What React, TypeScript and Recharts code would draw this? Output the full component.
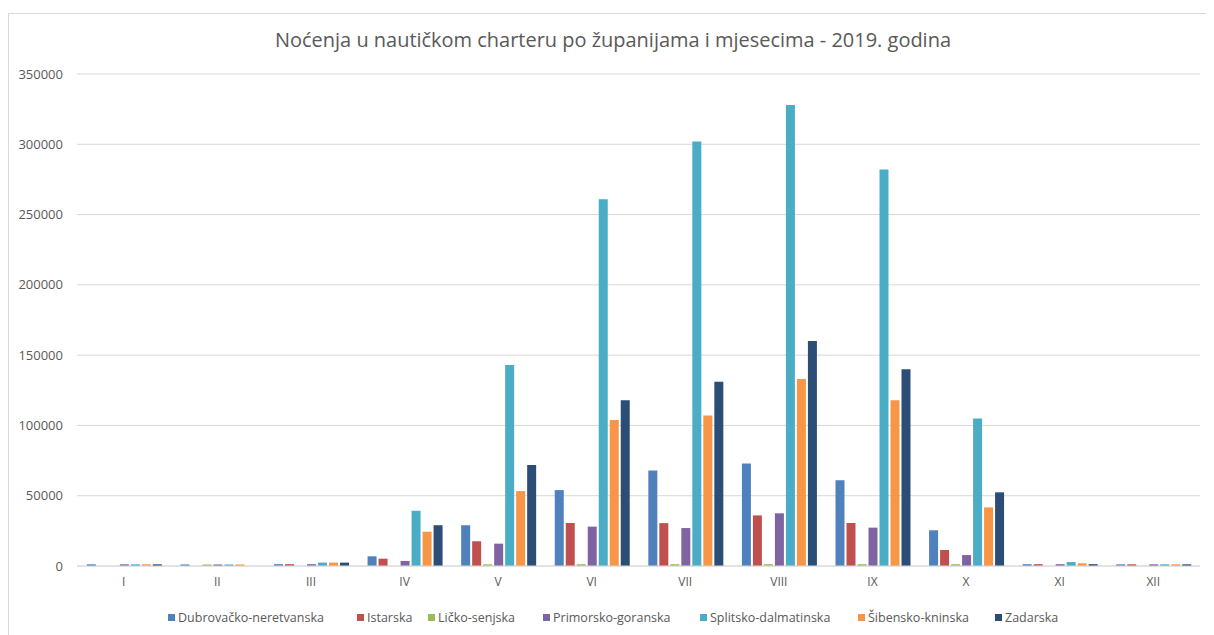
import React from 'react';
import { BarChart, Bar, XAxis, YAxis, CartesianGrid, Legend } from 'recharts';

const months = ['I', 'II', 'III', 'IV', 'V', 'VI', 'VII', 'VIII', 'IX', 'X', 'XI', 'XII'];
const dubrovacko = [1200, 1100, 1300, 6900, 29000, 54000, 68000, 73000, 61000, 25400, 1300, 1200];
const istarska = [0, 0, 1300, 5200, 17600, 30600, 30500, 36000, 30600, 11400, 1300, 1200];
const licko = [0, 1100, 0, 0, 1200, 1300, 1300, 1300, 1300, 1300, 0, 0];
const primorsko = [1200, 1100, 1300, 3600, 15900, 28000, 27000, 37500, 27300, 7800, 1300, 1200];
const splitsko = [1200, 1100, 2400, 39300, 143000, 260900, 302000, 328000, 282000, 105000, 2800, 1200];
const sibensko = [1200, 1100, 2400, 24400, 53300, 103900, 107000, 133000, 118000, 41700, 1900, 1200];
const zadarska = [1200, 0, 2400, 29000, 71900, 117900, 131000, 160000, 140000, 52400, 1300, 1200];
const yTicks = [0, 50000, 100000, 150000, 200000, 250000, 300000, 350000];

const seriesNames = [
  'Dubrovačko-neretvanska',
  'Istarska',
  'Ličko-senjska',
  'Primorsko-goranska',
  'Splitsko-dalmatinska',
  'Šibensko-kninska',
  'Zadarska',
];
const seriesKeys = ['dub', 'ist', 'lic', 'pri', 'spl', 'sib', 'zad'];
const seriesColors = ['#4F81BD', '#C0504D', '#9BBB59', '#8064A2', '#4BACC6', '#F79646', '#2C4D75'];
const seriesValues = [dubrovacko, istarska, licko, primorsko, splitsko, sibensko, zadarska];

const data = months.map((m, i) => {
  const row: Record<string, any> = { month: m };
  seriesKeys.forEach((k, j) => {
    row[k] = seriesValues[j][i];
  });
  return row;
});

const FONT = '"Open Sans", "Noto Sans", sans-serif';
const TEXT = '#595959';
const legendItemWidths = [189, 71, 115, 157, 158, 137, 80];

const LegendContent = () => (
  <div
    style={{
      display: 'flex',
      justifyContent: 'flex-start',
      alignItems: 'center',
      fontFamily: FONT,
      fontSize: 12.5,
      color: TEXT,
      whiteSpace: 'nowrap',
      paddingTop: 13,
      paddingLeft: 159,
    }}
  >
    {seriesNames.map((n, i) => (
      <span
        key={n}
        style={{ display: 'inline-flex', alignItems: 'center', width: legendItemWidths[i], flex: 'none' }}
      >
        <span
          style={{
            display: 'inline-block',
            width: 7,
            height: 7,
            background: seriesColors[i],
            marginRight: 3,
          }}
        />
        {n}
      </span>
    ))}
  </div>
);

export default function App() {
  return (
    <div style={{ paddingTop: 5 }}>
      <style>{`html,body{overflow:hidden}`}</style>
      <div
        style={{
          position: 'relative',
          width: 1220,
          height: 640,
          borderLeft: '1px solid #d9d9d9',
          borderTop: '1px solid #d9d9d9',
          background: '#fff',
        }}
      >
        <svg
          width={1205}
          height={60}
          style={{ position: 'absolute', left: 0, top: 0, pointerEvents: 'none' }}
        >
          <text
            x={604}
            y={33}
            textAnchor="middle"
            fontFamily={FONT}
            fontSize={20}
            fill={TEXT}
            textLength={676}
            lengthAdjust="spacingAndGlyphs"
          >
            Noćenja u nautičkom charteru po županijama i mjesecima - 2019. godina
          </text>
        </svg>
        <BarChart
          width={1205}
          height={620}
          data={data}
          margin={{ top: 60, right: 14, left: 0, bottom: 18 }}
          barCategoryGap="10.5%"
          barGap={2}
        >
          <CartesianGrid vertical={false} stroke="#d9d9d9" />
          <XAxis
            dataKey="month"
            axisLine={{ stroke: '#d9d9d9' }}
            tickLine={false}
            tickSize={0}
            tickMargin={11}
            height={30}
            tick={{ fill: TEXT, fontSize: 12, fontFamily: FONT }}
            interval={0}
          />
          <YAxis
            domain={[0, 350000]}
            ticks={yTicks}
            width={68}
            axisLine={false}
            tickLine={false}
            tickSize={0}
            tickMargin={14}
            tick={{ fill: TEXT, fontSize: 13, fontFamily: FONT }}
            interval={0}
          />
          <Legend verticalAlign="bottom" height={20} content={<LegendContent />} />
          {seriesKeys.map((k, j) => (
            <Bar
              key={k}
              dataKey={k}
              name={seriesNames[j]}
              fill={seriesColors[j]}
              isAnimationActive={false}
            />
          ))}
        </BarChart>
      </div>
    </div>
  );
}
